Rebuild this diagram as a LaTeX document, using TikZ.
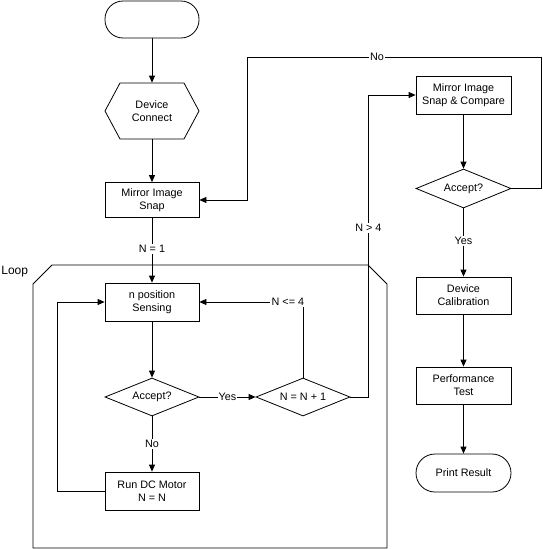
\documentclass[tikz,border=0pt]{standalone}
\usepackage{fontspec}
\setmainfont{Liberation Sans}
\usetikzlibrary{shapes.geometric,arrows.meta}
\begin{document}
\begin{tikzpicture}[x=1pt,y=-1pt,
  font=\fontsize{10.8}{13}\selectfont,
  every path/.style={line width=0.8pt},
  arr/.style={-{Triangle[length=7pt,width=6pt]}},
  proc/.style={draw, rectangle, minimum width=94pt, minimum height=37pt, inner sep=0pt, align=center},
  term/.style={draw, rectangle, rounded corners=18pt, minimum width=94pt, minimum height=37pt, inner sep=0pt, align=center},
  dec/.style={draw, diamond, aspect=2.47, minimum width=94pt, minimum height=38pt, inner sep=0pt, align=center},
  lbl/.style={fill=white, inner sep=1pt}
]
\useasboundingbox (0,0) rectangle (542,549);
% start
\node[term] (start) at (152,19.5) {};
% hexagon
\draw (105,111) -- (120,83) -- (184,83) -- (199,111) -- (184,139) -- (120,139) -- cycle;
\node[minimum width=94pt, minimum height=56pt, inner sep=0pt, align=center] (conn) at (152,111) {Device\\Connect};
\node[proc, minimum height=35pt] (snap) at (152,200) {Mirror Image\\Snap};
% loop frame
\draw (52,265) -- (368,265) -- (387,284) -- (387,548) -- (33,548) -- (33,284) -- cycle;
\node[anchor=west, inner sep=0pt, font=\fontsize{12}{13}\selectfont] (looplbl) at (1,272) {Loop};
\node[proc, minimum height=38pt] (sense) at (152,302) {n position\\Sensing};
\node[dec] (acc1) at (152,397) {Accept?};
\node[proc, minimum height=38pt] (run) at (152,491) {Run DC Motor\\N = N};
\node[dec] (inc) at (303,397) {N = N + 1};
% right column
\node[proc, minimum width=95pt, minimum height=38pt] (cmp) at (463.5,95) {Mirror Image\\Snap \& Compare};
\node[dec, minimum width=95pt, minimum height=39pt] (acc2) at (463.5,188.5) {Accept?};
\node[proc, minimum width=95pt] (cal) at (463.5,295.5) {Device\\Calibration};
\node[proc, minimum width=95pt] (perf) at (463.5,385.5) {Performance\\Test};
\node[term, minimum width=95pt, minimum height=38pt, rounded corners=19pt] (print) at (463.5,473) {Print Result};
% connectors
\draw[arr] (start) -- (conn);
\draw[arr] (conn) -- (snap);
\draw[arr] (snap) -- (sense) node[lbl, pos=0.48] {N = 1};
\draw[arr] (sense) -- (acc1);
\draw[arr] (acc1) -- (run) node[lbl, midway] {No};
\draw[arr] (run.west) -- ++(-47,0) |- (sense.west);
\draw[arr] (acc1.east) -- (inc.west) node[lbl, midway] {Yes};
\draw[arr] (inc.north) |- (sense.east);
\node[lbl, anchor=east, inner sep=1.5pt] (le4) at (306,302) {N <= 4};
\draw[arr] (inc.east) -- ++(18,0) |- (cmp.west) node[lbl, pos=0.28] {N > 4};
\draw[arr] (cmp) -- (acc2);
\coordinate (noturn) at (247,57);
\draw[arr] (acc2.east) -- ++(30,0) |- (noturn) |- (snap.east);
\node[lbl] (nolbl) at (377,57) {No};
\draw[arr] (acc2) -- (cal) node[lbl, pos=0.48] {Yes};
\draw[arr] (cal) -- (perf);
\draw[arr] (perf) -- (print);
\end{tikzpicture}
\end{document}
